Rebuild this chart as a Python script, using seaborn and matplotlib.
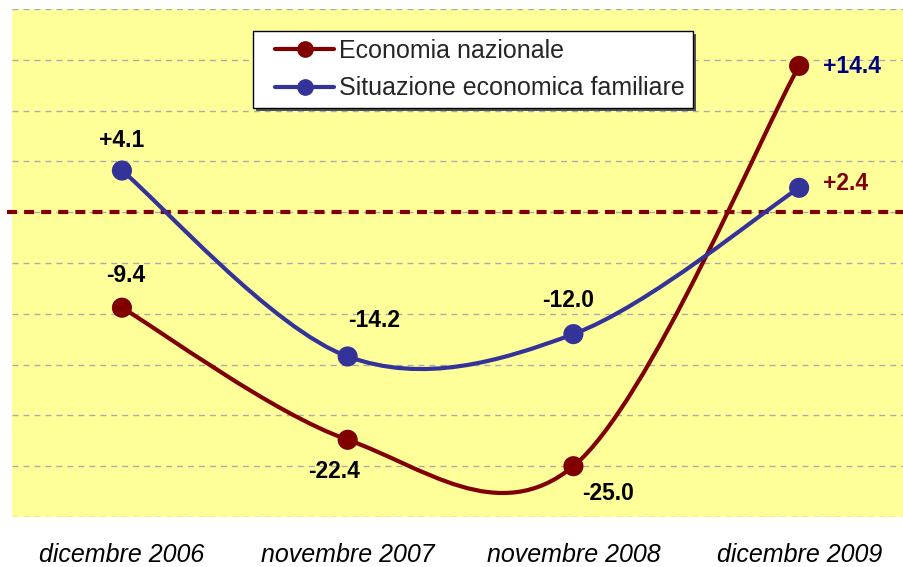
import matplotlib
matplotlib.use("Agg")
import matplotlib.pyplot as plt
from matplotlib.path import Path
from matplotlib.patches import PathPatch
from matplotlib.lines import Line2D
from matplotlib.legend_handler import HandlerLine2D
import seaborn as sns
import pandas as pd
import numpy as np

# ---- data ----
periods = ["dicembre 2006", "novembre 2007", "novembre 2008", "dicembre 2009"]
economia_nazionale = [-9.4, -22.4, -25.0, 14.4]
situazione_familiare = [4.1, -14.2, -12.0, 2.4]
series_names = ["Economia nazionale", "Situazione economica familiare"]
labels_nazionale = ["-9.4", "-22.4", "-25.0", "+14.4"]
labels_familiare = ["+4.1", "-14.2", "-12.0", "+2.4"]

RED = "#800000"
BLUE = "#333399"

sns.set_theme(style="white")
plt.rcParams["font.family"] = ["Liberation Sans", "DejaVu Sans"]

fig = plt.figure(figsize=(9.04, 5.67), dpi=100)
W, H = 904, 567
ax = fig.add_axes([12 / W, 50 / H, 900 / W, 508 / H])
ax.set_facecolor("#FFFF99")
for s in ax.spines.values():
    s.set_visible(False)

x = np.arange(len(periods))


def smooth_path(xs, ys):
    P = np.column_stack([xs, ys]).astype(float)
    n = len(P)
    verts = [P[0]]
    codes = [Path.MOVETO]
    for i in range(n - 1):
        p_prev = P[i - 1] if i > 0 else P[i]
        p_next2 = P[i + 2] if i + 2 < n else P[i + 1]
        c1 = P[i] + (P[i + 1] - p_prev) / 6.0
        c2 = P[i + 1] - (p_next2 - P[i]) / 6.0
        verts += [c1, c2, P[i + 1]]
        codes += [Path.CURVE4] * 3
    return Path(verts, codes)


for vals, col in [(economia_nazionale, RED), (situazione_familiare, BLUE)]:
    patch = PathPatch(smooth_path(x, vals), fill=False, edgecolor=col, lw=3,
                      capstyle="round", joinstyle="round", zorder=3)
    ax.add_patch(patch)

df = pd.DataFrame({
    "periodo": list(x) * 2,
    "valore": economia_nazionale + situazione_familiare,
    "serie": [series_names[0]] * 4 + [series_names[1]] * 4,
})
sns.scatterplot(data=df, x="periodo", y="valore", hue="serie",
                palette={series_names[0]: RED, series_names[1]: BLUE},
                s=210, edgecolor="none", legend=False, ax=ax, zorder=4)

# zero reference line
ax.axhline(0, xmin=-0.005, xmax=1, color=RED, lw=3, dashes=(2.4, 1.7),
           zorder=2, clip_on=False)

ax.set_xlim(-0.487, 3.5)
ax.set_ylim(-30, 20)
ax.set_yticks(np.arange(-30, 21, 5))
ax.set_yticklabels([])
ax.yaxis.grid(True, color="#ababab", linestyle=(0, (4.3, 3.6)), linewidth=1)
ax.xaxis.grid(False)
ax.set_xticks(x)
ax.set_xticklabels(periods, fontstyle="italic", fontsize=18, color="black")
ax.tick_params(axis="x", length=0, pad=18.5)
ax.tick_params(axis="y", length=0)
ax.set_xlabel("")
ax.set_ylabel("")

# data labels (offsets in pixels)
lab_kw = dict(textcoords="offset pixels", fontsize=16.5, fontweight="bold", zorder=5)
off_naz = [(4, 32, "center", "black"), (-14, -32, "center", "black"),
           (35, -27, "center", "black"), (24, -1, "left", "#000080")]
off_fam = [(0, 30, "center", "black"), (26, 36, "center", "black"),
           (-5, 34, "center", "black"), (24, 4, "left", RED)]
for i in range(4):
    dx, dy, ha, c = off_naz[i]
    ax.annotate(labels_nazionale[i], (x[i], economia_nazionale[i]), xytext=(dx, dy),
                ha=ha, va="center", color=c, **lab_kw)
    dx, dy, ha, c = off_fam[i]
    ax.annotate(labels_familiare[i], (x[i], situazione_familiare[i]), xytext=(dx, dy),
                ha=ha, va="center", color=c, **lab_kw)

handles = [Line2D([], [], color=RED, lw=3, marker="o", markersize=11),
           Line2D([], [], color=BLUE, lw=3, marker="o", markersize=11)]
hmap = {h: HandlerLine2D(xpad=0.6) for h in handles}
leg = ax.legend(handles, series_names, loc="upper left", handler_map=hmap,
                bbox_to_anchor=(253 / W, 1 - 31 / H), bbox_transform=fig.transFigure,
                borderaxespad=0, fontsize=18, handlelength=2.96, handletextpad=0.2,
                borderpad=0.3, labelspacing=0.55, frameon=True, fancybox=False,
                shadow={"facecolor": "#555555", "edgecolor": "none", "alpha": 1})
leg.get_frame().set_edgecolor("black")
leg.get_frame().set_linewidth(1)
leg.get_frame().set_facecolor("white")
leg.get_frame().set_alpha(1)

fig.savefig("out.png", dpi=100)
